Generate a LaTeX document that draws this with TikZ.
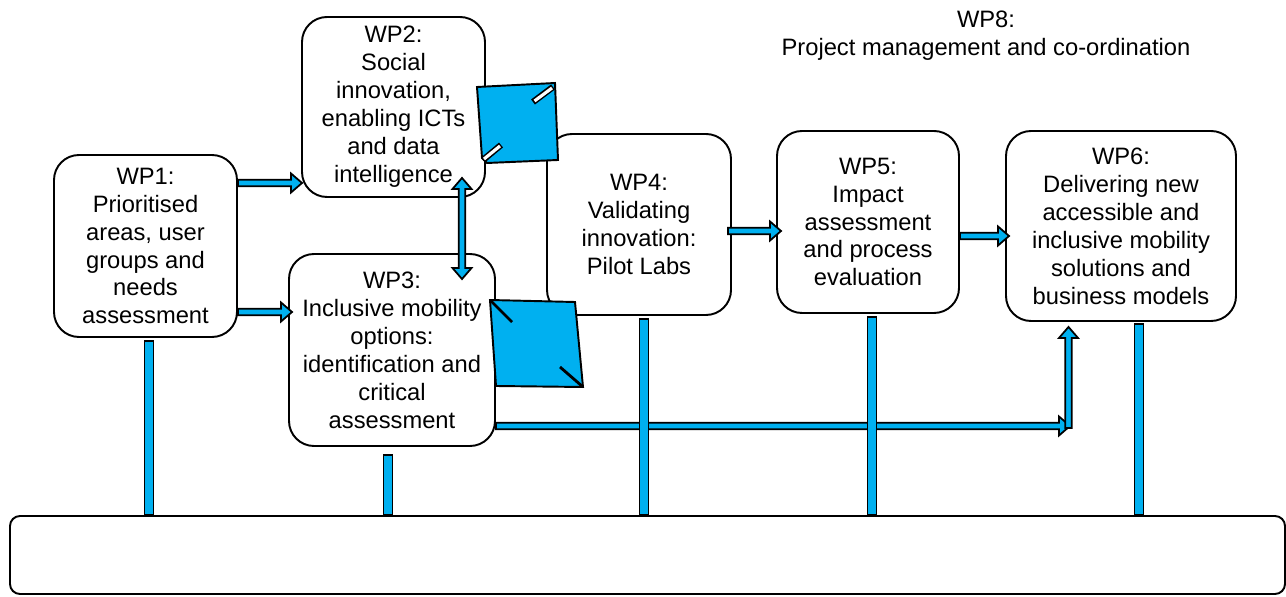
\documentclass[tikz,border=0pt]{standalone}
\usepackage{fontspec}
\setmainfont{Liberation Sans}
\usepackage{tikz}
\usetikzlibrary{calc}

\definecolor{wpblue}{RGB}{0,176,240}
\newcommand{\wpfont}{\fontsize{13.5}{15.9}\selectfont}
\newcommand{\sw}{0.065cm}
\newcommand{\hw}{0.19cm}
\newcommand{\hl}{0.22cm}
\newcommand{\bw}{0.09cm}

\newcommand{\wparrow}[2]{%
\draw[blockarr] let \p1=($(#2)-(#1)$), \n1={veclen(\x1,\y1)}, \n2={atan2(\y1,\x1)} in
  [shift={(#1)}, rotate=\n2]
  (0,-\sw) -- (\n1-\hl,-\sw) -- (\n1-\hl,-\hw) -- (\n1,0) -- (\n1-\hl,\hw) -- (\n1-\hl,\sw) -- (0,\sw) -- cycle;}
\newcommand{\wpdarrow}[2]{%
\draw[blockarr] let \p1=($(#2)-(#1)$), \n1={veclen(\x1,\y1)}, \n2={atan2(\y1,\x1)} in
  [shift={(#1)}, rotate=\n2]
  (0,0) -- (\hl,\hw) -- (\hl,\sw) -- (\n1-\hl,\sw) -- (\n1-\hl,\hw) -- (\n1,0) -- (\n1-\hl,-\hw) -- (\n1-\hl,-\sw) -- (\hl,-\sw) -- (\hl,-\hw) -- cycle;}
\newcommand{\wpbar}[2]{%
\draw[blockarr] let \p1=(#1), \p2=(#2) in (\x1-\bw,\y1) rectangle (\x1+\bw,\y2);}

\begin{document}
\begin{tikzpicture}[
  wp/.style = {draw, line width=1.1pt, rounded corners=0.5cm, fill=white, align=center, inner sep=0pt, font=\wpfont},
  blockarr/.style = {draw=black, fill=wpblue, line width=1pt, line join=miter},
  bent/.style = {draw=black, fill=wpblue, line width=1.1pt, line join=miter}]

\useasboundingbox (0,0) rectangle (25.72,11.92);

\node[wp, minimum width=3.66cm, minimum height=3.64cm] (wp1) at (2.91,7.00) {WP1:\\Prioritised\\areas, user\\groups and\\needs\\assessment};
\node[wp, minimum width=3.66cm, minimum height=3.60cm] (wp2) at (7.87,9.78) {WP2:\\Social\\innovation,\\enabling ICTs\\and data\\intelligence};
\node[wp, minimum width=4.12cm, minimum height=3.84cm] (wp3) at (7.84,4.92) {WP3:\\Inclusive mobility\\options:\\identification and\\critical\\assessment};
\node[wp, minimum width=3.68cm, minimum height=3.62cm] (wp4) at (12.78,7.43) {WP4:\\Validating\\innovation:\\Pilot Labs};
\node[wp, minimum width=3.64cm, minimum height=3.64cm] (wp5) at (17.36,7.48) {WP5:\\Impact\\assessment\\and process\\evaluation};
\node[wp, minimum width=4.60cm, minimum height=3.80cm] (wp6) at (22.42,7.40) {WP6:\\Delivering new\\accessible and\\inclusive mobility\\solutions and\\business models};
\node[align=center, font=\wpfont] (wp8) at (19.72,11.20) {WP8:\\Project management and co-ordination};
\node[draw, line width=1.1pt, rounded corners=0.2cm, minimum width=25.5cm, minimum height=1.56cm] (base) at (12.95,0.82) {};

\coordinate (turn) at (21.40,3.40);

\wparrow{[yshift=1.26cm]wp1.east}{[xshift=0.02cm,yshift=-1.52cm]wp2.west}
\wparrow{[yshift=-1.32cm]wp1.east}{[xshift=0.08cm,yshift=0.76cm]wp3.west}
\wpdarrow{[xshift=1.37cm,yshift=0.40cm]wp2.south}{[xshift=1.40cm,yshift=-0.52cm]wp3.north}
\wparrow{[xshift=-0.08cm,yshift=-0.13cm]wp4.east}{[xshift=0.10cm,yshift=-0.18cm]wp5.west}
\wparrow{[yshift=-0.28cm]wp5.east}{[xshift=0.08cm,yshift=-0.20cm]wp6.west}
\wparrow{[yshift=-1.52cm]wp3.east}{turn}
\wparrow{[xshift=-0.03cm,yshift=-0.04cm]turn}{[xshift=-1.05cm,yshift=-0.10cm]wp6.south}

\foreach \w/\dx/\gap in {wp1/0.07/0.06, wp3/-0.08/0.16, wp4/0.10/0.06, wp5/0.08/0.06, wp6/0.36/0.04}
  \wpbar{[xshift=\dx cm, yshift=-\gap cm]\w.south}{base.north};

\draw[bent] (9.54,10.18) -- (11.10,10.26) -- (11.16,8.72) -- (9.74,8.66) -- (9.64,8.76) -- cycle;
\draw[line width=3.6pt] (10.66,9.88) -- (11.06,10.18);
\draw[white, line width=1.8pt] (10.69,9.90) -- (11.04,10.16);
\draw[line width=3.6pt] (9.66,8.72) -- (10.02,9.02);
\draw[white, line width=1.8pt] (9.68,8.74) -- (10.00,9.00);

\draw[bent] (9.80,5.92) -- (11.50,5.88) -- (11.66,4.18) -- (9.92,4.20) -- cycle;
\draw[line width=1.6pt] (9.80,5.92) -- (10.24,5.48);
\draw[line width=1.6pt] (11.20,4.58) -- (11.66,4.18);
\end{tikzpicture}
\end{document}
